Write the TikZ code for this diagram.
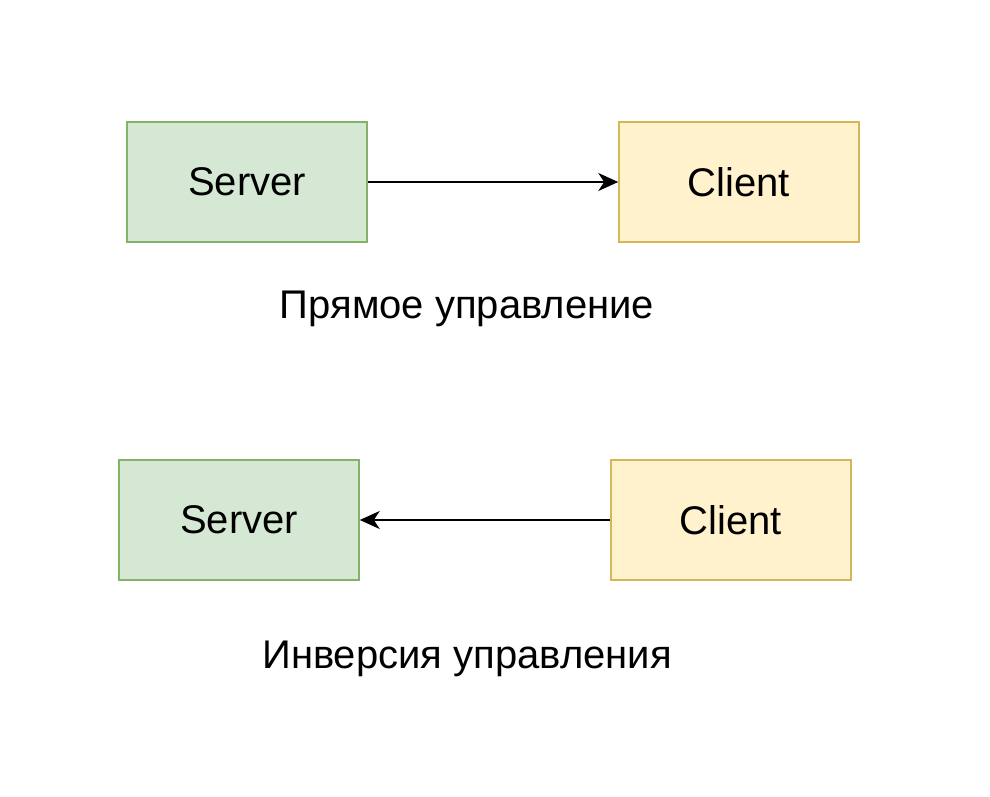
\documentclass[tikz,border=0pt]{standalone}
\usepackage{fontspec}
\setmainfont{Liberation Sans}
\usetikzlibrary{arrows.meta}
\begin{document}
\begin{tikzpicture}[x=1pt,y=-1pt,
  srv/.style={draw=srvline,fill=srvfill,line width=1.5pt,minimum width=240pt,minimum height=120pt,inner sep=0pt,font=\fontsize{40}{48}\selectfont},
  cli/.style={draw=cliline,fill=clifill,line width=1.5pt,minimum width=240pt,minimum height=120pt,inner sep=0pt,font=\fontsize{40}{48}\selectfont},
  conn/.style={line width=1.6pt,-{Stealth[length=20pt,width=18pt,inset=6pt]}},
  captext/.style={font=\fontsize{40}{48}\selectfont,inner sep=0pt}]
\definecolor{srvfill}{HTML}{D5E8D4}
\definecolor{srvline}{HTML}{82B366}
\definecolor{clifill}{HTML}{FFF2CC}
\definecolor{cliline}{HTML}{D6B656}
\useasboundingbox (0,0) rectangle (990,797);
\node[srv] (s1) at (247,182) {Server};
\node[cli] (c1) at (739,182) {Client};
\draw[conn] (s1) -- (c1);
\node[captext] (l1) at (467,309) {Прямое управление};
\node[srv] (s2) at (239,520) {Server};
\node[cli] (c2) at (731,520) {Client};
\draw[conn] (c2) -- (s2);
\node[captext] (l2) at (467,659) {Инверсия управления};
\end{tikzpicture}
\end{document}
